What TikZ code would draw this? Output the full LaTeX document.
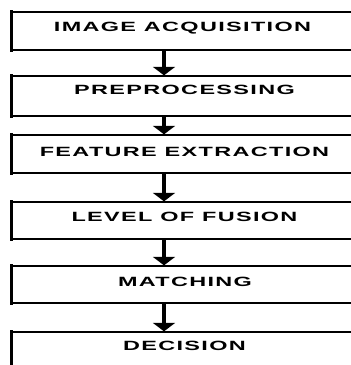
\documentclass[tikz,border=0pt]{standalone}
\usepackage{fontspec}
\setmainfont{Liberation Sans}
\newfontfamily\lblfont[FakeStretch=1.75,LetterSpace=10]{Liberation Sans}
\usetikzlibrary{arrows.meta}
\tikzset{
  box/.style={draw=black, line width=1.3pt, minimum width=342pt, inner sep=0pt, fill=none},
  vside/.style={line width=3.2pt, line cap=rect},
  lbl/.style={font=\lblfont\bfseries\fontsize{13.4}{14}\selectfont, inner sep=0pt, text height=9.8pt, text depth=0pt, anchor=center},
  flow/.style={line width=4.2pt, -{Triangle[width=22pt,length=8.5pt]}},
}
\begin{document}
\begin{tikzpicture}[x=1pt,y=-1pt]
\useasboundingbox (0,0) rectangle (351,365);
\begin{scope}
\clip (0,0) rectangle (351,365);
\node[box, minimum height=38pt] (b1) at (183,31) {};
\node[box, minimum height=40pt] (b2) at (183,96) {};
\node[box, minimum height=38pt] (b3) at (183,154) {};
\node[box, minimum height=37pt] (b4) at (183,220.5) {};
\node[box, minimum height=37pt] (b5) at (183,284.5) {};
\node[box, minimum height=68pt] (b6) at (183,366) {};
\foreach \b in {b1,b2,b3,b4,b5,b6}
  \draw[vside] (\b.north west) -- (\b.south west);
\node[lbl] (t1) at (182.5,27) {IMAGE ACQUISITION};
\node[lbl] (t2) at (184.5,90) {PREPROCESSING};
\node[lbl] (t3) at (184.5,152) {FEATURE EXTRACTION};
\node[lbl] (t4) at (184.5,217) {LEVEL OF FUSION};
\node[lbl] (t5) at (185,282) {MATCHING};
\node[lbl] (t6) at (184.5,346) {DECISION};
\coordinate (ax) at (164,0);
\draw[flow] (b1.south -| ax) -- (b2.north -| ax);
\draw[flow] (b2.south -| ax) -- (b3.north -| ax);
\draw[flow] (b3.south -| ax) -- (b4.north -| ax);
\draw[flow] (b4.south -| ax) -- (b5.north -| ax);
\draw[flow] (b5.south -| ax) -- (b6.north -| ax);
\end{scope}
\end{tikzpicture}
\end{document}
